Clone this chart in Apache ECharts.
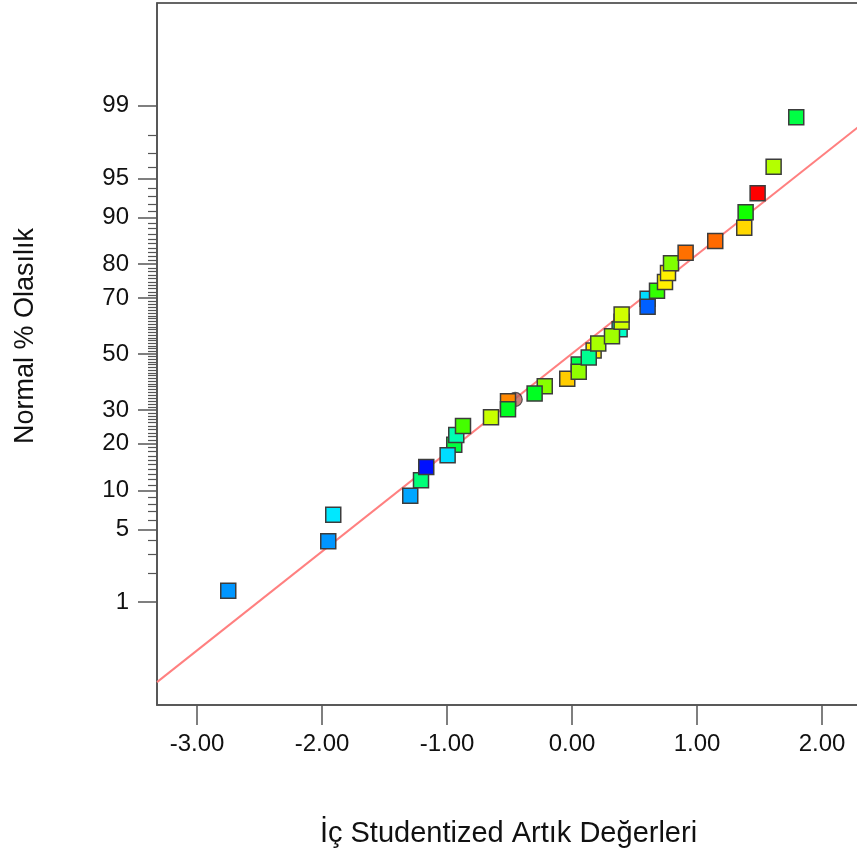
<!DOCTYPE html>
<html>
<head>
<meta charset="utf-8">
<script src="https://cdn.jsdelivr.net/npm/echarts@6/dist/echarts.min.js"></script>
<style>
  html, body { margin: 0; padding: 0; background: #fff; }
  #chart { width: 857px; height: 864px; }
</style>
</head>
<body>
<div id="chart"></div>
<script>
// Internally studentized residuals (listed in drawing order)
const residuals = [
  -2.750, -1.950, -1.910, -1.294, -1.208, -1.166, -0.942, -0.995, -0.926, -0.872,
  -0.648, -0.512, -0.512, -0.218, -0.299, -0.038, 0.054, 0.054, 0.173, 0.134,
  0.210, 0.381, 0.320, 0.397, 0.397, 0.605, 0.605, 0.680, 0.744, 0.768,
  0.792, 0.909, 1.146, 1.378, 1.389, 1.485, 1.613, 1.794
];
// Normal % probability of each residual
const normalPct = [
  1.32, 3.95, 6.58, 9.21, 11.84, 14.47, 19.74, 17.11, 22.37, 25.00,
  27.63, 32.89, 30.26, 38.16, 35.53, 40.79, 46.05, 43.42, 51.32, 48.68,
  53.95, 59.21, 56.58, 61.84, 64.47, 69.74, 67.11, 72.37, 75.00, 77.63,
  80.26, 82.89, 85.53, 88.16, 90.79, 93.42, 96.05, 98.68
];
// Point colours (colour-coded runs)
const pointColors = [
  '#0096FF', '#0096FF', '#00E8FF', '#00A6FF', '#00FF78', '#0010FF', '#00FF40', '#00DDFF', '#00FFB0', '#44FF00',
  '#C8FF00', '#FF8800', '#00FF22', '#88FF00', '#00FF22', '#FFCC00', '#00FF50', '#90FF00', '#FFEE00', '#00FF90',
  '#A8FF00', '#00FFC8', '#A0FF00', '#D0FF00', '#D0FF00', '#00DDFF', '#0060FF', '#33FF00', '#FFF000', '#FFF000',
  '#80FF00', '#FF7000', '#FF6A00', '#FFD800', '#11FF00', '#FF0000', '#B4FF00', '#00FF44'
];
// Extra round marker partly hidden behind the squares
const roundX = [-0.454];
const roundPct = [33.5];

// Axis ticks
const xTicks = [-3, -2, -1, 0, 1, 2];
const yMajorPct = [1, 5, 10, 20, 30, 50, 70, 80, 90, 95, 99];
const yRangePct = [0.05, 99.95];
const xRange = [-3.32, 2.304];

// Fitted normal line: z = (x - mean) / sd
const fitMean = -0.004;
const fitSd = 1.078;

// Inverse standard normal CDF (Acklam's approximation)
function probit(p) {
  const a = [-3.969683028665376e+01, 2.209460984245205e+02, -2.759285104469687e+02, 1.383577518672690e+02, -3.066479806614716e+01, 2.506628277459239e+00];
  const b = [-5.447609879822406e+01, 1.615858368580409e+02, -1.556989798598866e+02, 6.680131188771972e+01, -1.328068155288572e+01];
  const c = [-7.784894002430293e-03, -3.223964580411365e-01, -2.400758277161838e+00, -2.549732539343734e+00, 4.374664141464968e+00, 2.938163982698783e+00];
  const d = [7.784695709041462e-03, 3.224671290700398e-01, 2.445134137142996e+00, 3.754408661907416e+00];
  const pl = 0.02425, ph = 1 - pl;
  let q, r;
  if (p < pl) {
    q = Math.sqrt(-2 * Math.log(p));
    return (((((c[0]*q+c[1])*q+c[2])*q+c[3])*q+c[4])*q+c[5]) / ((((d[0]*q+d[1])*q+d[2])*q+d[3])*q+1);
  }
  if (p > ph) {
    q = Math.sqrt(-2 * Math.log(1 - p));
    return -(((((c[0]*q+c[1])*q+c[2])*q+c[3])*q+c[4])*q+c[5]) / ((((d[0]*q+d[1])*q+d[2])*q+d[3])*q+1);
  }
  q = p - 0.5; r = q * q;
  return (((((a[0]*r+a[1])*r+a[2])*r+a[3])*r+a[4])*r+a[5])*q / (((((b[0]*r+b[1])*r+b[2])*r+b[3])*r+b[4])*r+1);
}
const pctToZ = pct => probit(pct / 100);

const yMajorZ = yMajorPct.map(pctToZ);
const yMinorZ = [];
for (let k = 2; k <= 98; k++) {
  if (yMajorPct.indexOf(k) < 0) yMinorZ.push(pctToZ(k));
}
const zMin = pctToZ(yRangePct[0]);
const zMax = pctToZ(yRangePct[1]);

function majorLabel(v) {
  let best = 0, bd = Infinity;
  yMajorZ.forEach((z, i) => { const dd = Math.abs(z - v); if (dd < bd) { bd = dd; best = i; } });
  return String(yMajorPct[best]);
}

const FONT = "'Liberation Sans', Arial, sans-serif";
const axisColor = '#555';

const points = residuals.map((x, i) => ({
  value: [x, pctToZ(normalPct[i])],
  itemStyle: { color: pointColors[i] }
}));
const roundPts = roundX.map((x, i) => [x, pctToZ(roundPct[i])]);
const fitLine = xRange.map(x => [x, (x - fitMean) / fitSd]);

const chart = echarts.init(document.getElementById('chart'), null, { renderer: 'canvas' });
chart.setOption({
  animation: false,
  backgroundColor: '#fff',
  grid: {
    left: 157, top: 3, right: -3, bottom: 159,
    show: true, borderColor: '#333', borderWidth: 1.5,
    containLabel: false, outerBoundsMode: 'none'
  },
  xAxis: {
    type: 'value', min: xRange[0], max: xRange[1],
    axisLine: { show: true, onZero: false, lineStyle: { color: axisColor, width: 1.5 } },
    axisTick: { show: true, length: 20, customValues: xTicks, lineStyle: { color: axisColor, width: 1.5 } },
    axisLabel: { customValues: xTicks, formatter: v => v.toFixed(2), margin: 27, fontSize: 24, color: '#111', fontFamily: FONT },
    splitLine: { show: false },
    name: 'İç Studentized Artık Değerleri', nameLocation: 'middle', nameGap: 114,
    nameTextStyle: { fontSize: 29, color: '#111', fontFamily: FONT }
  },
  yAxis: [{
    type: 'value', min: zMin, max: zMax, position: 'left',
    axisLine: { show: true, onZero: false, lineStyle: { color: axisColor, width: 1.5 } },
    axisTick: { show: true, length: 19, customValues: yMajorZ, lineStyle: { color: axisColor, width: 1.5 } },
    axisLabel: { customValues: yMajorZ, formatter: majorLabel, margin: 28, fontSize: 24, color: '#111', fontFamily: FONT },
    splitLine: { show: false },
    name: 'Normal % Olasılık', nameLocation: 'middle', nameGap: 118,
    nameTextStyle: { fontSize: 27, color: '#111', fontFamily: FONT, padding: [0, 0, 0, 36] }
  }, {
    type: 'value', min: zMin, max: zMax, position: 'left',
    axisLine: { show: false, onZero: false },
    axisTick: { show: true, length: 9, customValues: yMinorZ, lineStyle: { color: axisColor, width: 1.2 } },
    axisLabel: { show: false },
    splitLine: { show: false }
  }],
  series: [{
    type: 'line', data: fitLine, symbol: 'none', silent: true, z: 1,
    lineStyle: { color: '#ff8080', width: 2 }
  }, {
    type: 'scatter', data: roundPts, symbol: 'circle', symbolSize: 14, z: 2,
    itemStyle: { color: '#b9605a', borderColor: '#333', borderWidth: 1.2 }
  }, {
    type: 'scatter', data: points, symbol: 'rect', symbolSize: 15, z: 3,
    itemStyle: { borderColor: '#3c3c3c', borderWidth: 1.5, opacity: 1 }
  }]
});
</script>
</body>
</html>
